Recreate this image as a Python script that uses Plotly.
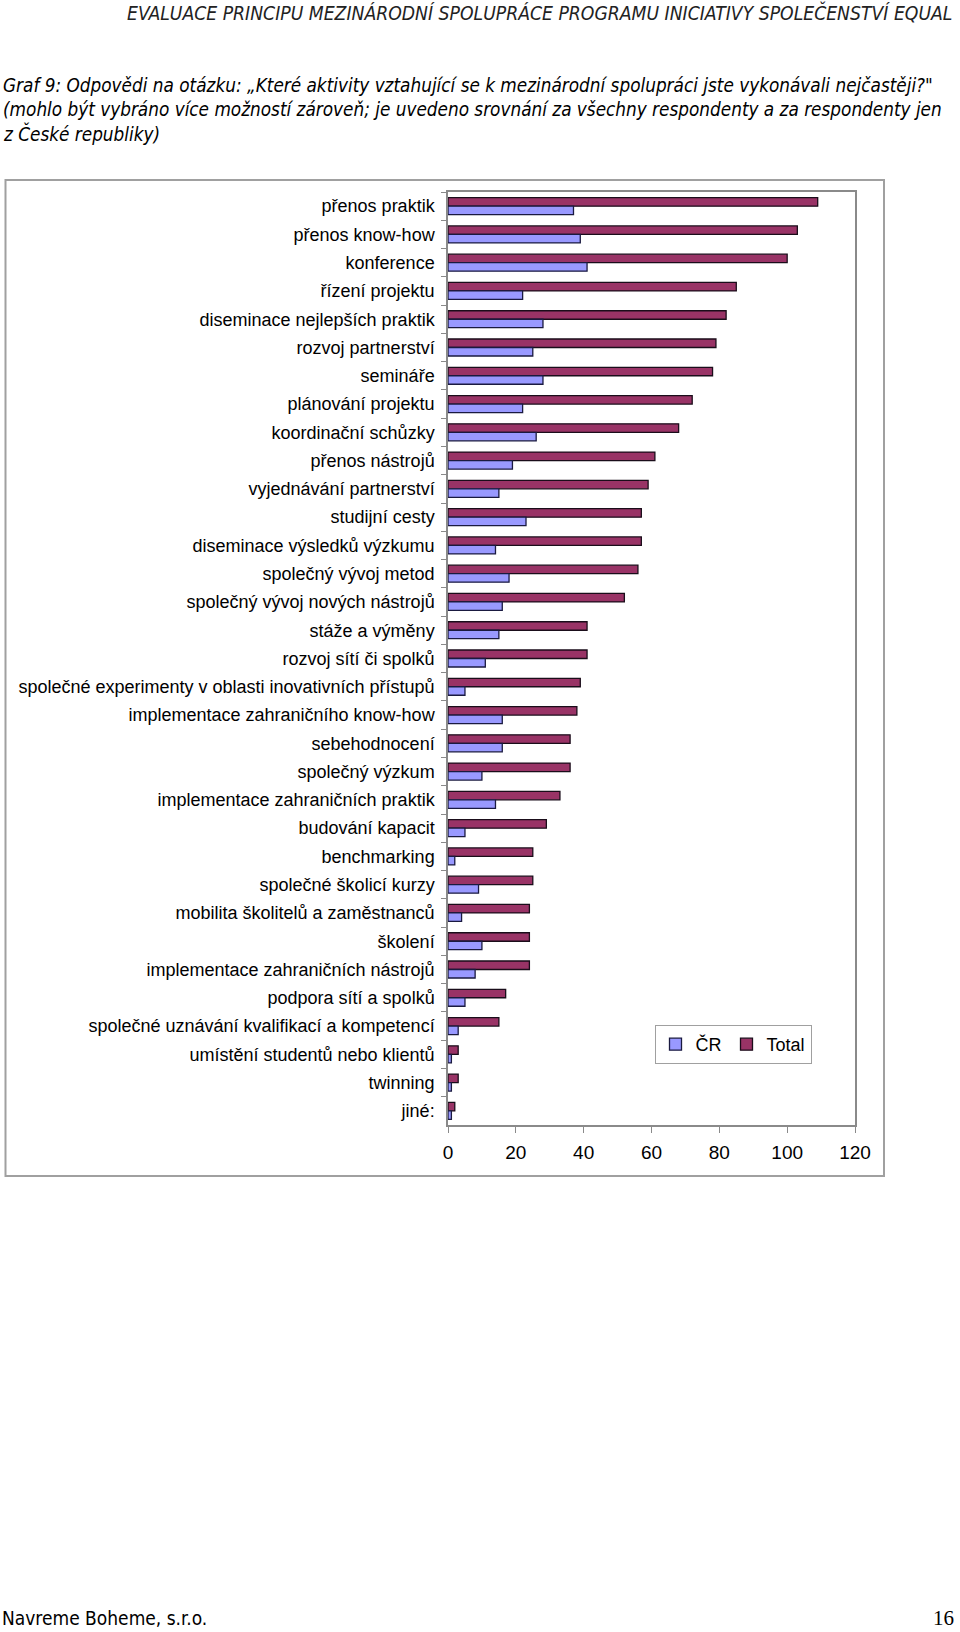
import plotly.graph_objects as go

categories = [
    "přenos praktik", "přenos know-how", "konference", "řízení projektu",
    "diseminace nejlepších praktik", "rozvoj partnerství", "semináře",
    "plánování projektu", "koordinační schůzky", "přenos nástrojů",
    "vyjednávání partnerství", "studijní cesty", "diseminace výsledků výzkumu",
    "společný vývoj metod", "společný vývoj nových nástrojů", "stáže a výměny",
    "rozvoj sítí či spolků", "společné experimenty v oblasti inovativních přístupů",
    "implementace zahraničního know-how", "sebehodnocení", "společný výzkum",
    "implementace zahraničních praktik", "budování kapacit", "benchmarking",
    "společné školicí kurzy", "mobilita školitelů a zaměstnanců", "školení",
    "implementace zahraničních nástrojů", "podpora sítí a spolků",
    "společné uznávání kvalifikací a kompetencí", "umístění studentů nebo klientů",
    "twinning", "jiné:",
]
total_values = [109, 103, 100, 85, 82, 79, 78, 72, 68, 61, 59, 57, 57, 56, 52,
                41, 41, 39, 38, 36, 36, 33, 29, 25, 25, 24, 24, 24, 17, 15, 3, 3, 2]
cr_values = [37, 39, 41, 22, 28, 25, 28, 22, 26, 19, 15, 23, 14, 18, 16,
             15, 11, 5, 16, 16, 10, 14, 5, 2, 9, 4, 10, 8, 5, 3, 1, 1, 1]
x_ticks = [0, 20, 40, 60, 80, 100, 120]

header_text = "EVALUACE PRINCIPU MEZINÁRODNÍ SPOLUPRÁCE PROGRAMU INICIATIVY SPOLEČENSTVÍ EQUAL"
title_lines = [
    "Graf 9: Odpovědi na otázku: „Které aktivity vztahující se k mezinárodní spolupráci jste vykonávali nejčastěji?\"",
    "(mohlo být vybráno více možností zároveň; je uvedeno srovnání za všechny respondenty a za respondenty jen",
    "z České republiky)",
]
footer_left = "Navreme Boheme, s.r.o."
footer_right = "16"

W, H = 960, 1632
PL, PR, PT, PB = 448, 855, 192, 1125  # plot area in pixels


def px(x):
    return (x - PL) / (PR - PL)


def py(y):
    return (PB - y) / (PB - PT)


DOC_FONT = "DejaVu Sans Condensed, DejaVu Sans, sans-serif"
CHART_FONT = "Liberation Sans, Arial, sans-serif"

fig = go.Figure()
fig.add_trace(go.Bar(
    name="Total", y=categories, x=total_values, orientation="h",
    marker=dict(color="#993366", line=dict(color="#1a0d1a", width=1.3)),
    legendrank=2,
))
fig.add_trace(go.Bar(
    name="ČR", y=categories, x=cr_values, orientation="h",
    marker=dict(color="#9999FF", line=dict(color="#1a1a40", width=1.3)),
    legendrank=1,
))

annotations = [
    dict(text="<i>" + header_text + "</i>", x=px(954), y=py(13), xanchor="right",
         yanchor="middle", font=dict(family=DOC_FONT, size=19.2, color="#222222")),
]
for line, yy in zip(title_lines, [85, 109, 133]):
    annotations.append(dict(text="<i>" + line + "</i>", x=px(1), y=py(yy),
                            xanchor="left", yanchor="middle",
                            font=dict(family=DOC_FONT, size=18.8, color="#000000")))
annotations.append(dict(text=footer_left, x=px(0), y=py(1618), xanchor="left",
                        yanchor="middle", font=dict(family=DOC_FONT, size=19, color="#000000")))
annotations.append(dict(text=footer_right, x=px(956), y=py(1618), xanchor="right",
                        yanchor="middle",
                        font=dict(family="Liberation Serif, Times New Roman, serif", size=21,
                                  color="#000000")))
for a in annotations:
    a.update(xref="paper", yref="paper", showarrow=False)

shapes = [
    dict(type="rect", xref="paper", yref="paper", x0=px(5.5), x1=px(884), y0=py(1176), y1=py(180),
         line=dict(color="#a0a0a0", width=2), fillcolor="rgba(0,0,0,0)", layer="below"),
]

fig.update_layout(
    width=W, height=H,
    margin=dict(l=PL, r=W - PR, t=PT, b=H - PB),
    paper_bgcolor="white", plot_bgcolor="white",
    barmode="group", bargap=0.4, bargroupgap=0.0,
    font=dict(family=CHART_FONT, color="#000000"),
    showlegend=True,
    legend=dict(
        orientation="h", x=px(733), y=py(1044.5), xanchor="center", yanchor="middle",
        bgcolor="white", bordercolor="#a0a0a0", borderwidth=1,
        font=dict(family=CHART_FONT, size=18, color="#000000"),
        itemwidth=30, tracegroupgap=0,
    ),
    annotations=annotations,
    shapes=shapes,
)
fig.update_xaxes(
    range=[0, 120], tickvals=x_ticks, ticktext=[str(v) for v in x_ticks],
    showgrid=False, zeroline=False,
    showline=True, linecolor="#8a8a8a", linewidth=1.5, mirror=True,
    ticks="outside", ticklen=6, tickcolor="#8a8a8a", tickwidth=1,
    ticklabelstandoff=3,
    tickfont=dict(family=CHART_FONT, size=19, color="#000000"),
)
fig.update_yaxes(
    type="category", categoryorder="array", categoryarray=categories,
    autorange="reversed", showgrid=False, zeroline=False,
    showline=True, linecolor="#8a8a8a", linewidth=1.5, mirror=True,
    ticks="outside", ticklen=5, tickcolor="#8a8a8a", tickwidth=1,
    tickson="boundaries", ticklabelstandoff=8,
    tickfont=dict(family=CHART_FONT, size=18, color="#000000"),
)

fig.write_html(
    "out.html",
    config={"displayModeBar": False},
    post_script="document.body.style.margin='0px';document.body.style.padding='0px';",
)
